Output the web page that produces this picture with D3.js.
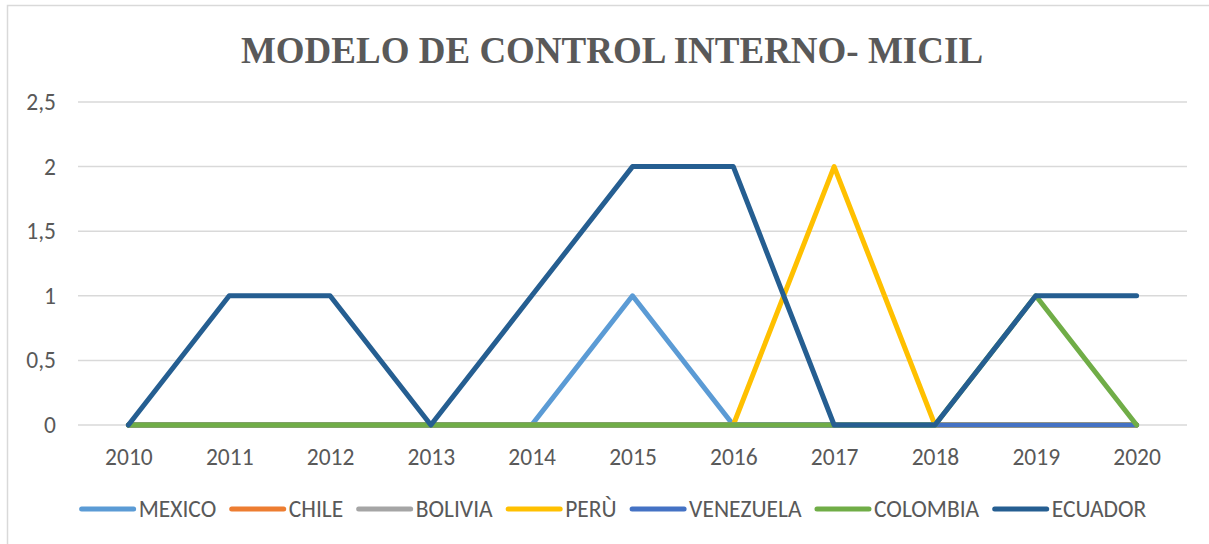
<!DOCTYPE html>
<html>
<head>
<meta charset="utf-8">
<script src="https://cdn.jsdelivr.net/npm/d3@7"></script>
<style>
  body { margin: 0; background: #fff; }
  svg text { font-family: Carlito, "Open Sans", sans-serif; fill: #595959; }
</style>
</head>
<body>
<svg id="chart" width="1209" height="544"></svg>
<script>
// data
const years = ["2010","2011","2012","2013","2014","2015","2016","2017","2018","2019","2020"];
const yTicks = [0, 0.5, 1, 1.5, 2, 2.5];
const seriesNames = ["MEXICO","CHILE","BOLIVIA","PERÙ","VENEZUELA","COLOMBIA","ECUADOR"];
const seriesColors = ["#5B9BD5","#ED7D31","#A5A5A5","#FFC000","#4472C4","#70AD47","#255E91"];
const mexico    = [0,0,0,0,0,1,0,0,0,0,0];
const chile     = [0,0,0,0,0,0,0,0,0,0,0];
const bolivia   = [0,0,0,0,0,0,0,0,0,0,0];
const peru      = [0,0,0,0,0,0,0,2,0,0,0];
const venezuela = [0,0,0,0,0,0,0,0,0,0,0];
const colombia  = [0,0,0,0,0,0,0,0,0,1,0];
const ecuador   = [0,1,1,0,1,2,2,0,0,1,1];
const seriesValues = [mexico, chile, bolivia, peru, venezuela, colombia, ecuador];

const svg = d3.select("#chart");

// outer frame (right/bottom edges fall outside the picture)
svg.append("rect")
    .attr("x", 7.5).attr("y", 5.5)
    .attr("width", 1220).attr("height", 560)
    .attr("fill", "none")
    .attr("stroke", "#D9D9D9")
    .attr("stroke-width", 1.5);

svg.append("text")
    .attr("x", 612)
    .attr("y", 63)
    .attr("text-anchor", "middle")
    .style("font-family", "'Liberation Serif', 'Times New Roman', serif")
    .style("font-weight", "bold")
    .style("font-size", "37px")
    .text("MODELO DE CONTROL INTERNO- MICIL");

const x = d3.scalePoint().domain(years).range([78, 1187]).padding(0.5);
const y = d3.scaleLinear().domain([0, 2.5]).range([425, 102]);

// gridlines
svg.append("g")
    .selectAll("line")
    .data(yTicks)
    .join("line")
    .attr("x1", 78).attr("x2", 1187)
    .attr("y1", d => y(d)).attr("y2", d => y(d))
    .attr("stroke", "#D9D9D9")
    .attr("stroke-width", 1.5);

// y axis labels
const yAxis = svg.append("g")
    .attr("transform", "translate(56,0)")
    .call(d3.axisLeft(y).tickValues(yTicks).tickSize(0).tickPadding(0)
        .tickFormat(d => String(d).replace(".", ",")));
yAxis.select(".domain").remove();
yAxis.selectAll("text")
    .style("font-size", "23.5px")
    .style("font-family", "Carlito, 'Open Sans', sans-serif")
    .attr("fill", "#595959");

// x axis labels
const xAxis = svg.append("g")
    .attr("transform", "translate(0,465)")
    .call(d3.axisBottom(x).tickSize(0).tickPadding(0));
xAxis.select(".domain").remove();
xAxis.selectAll("text")
    .attr("y", 0)
    .attr("dy", 0)
    .style("font-size", "23.5px")
    .style("font-family", "Carlito, 'Open Sans', sans-serif")
    .attr("fill", "#595959");

// lines
const line = d3.line()
    .x((d, i) => x(years[i]))
    .y(d => y(d));

svg.append("g")
    .selectAll("path")
    .data(seriesValues)
    .join("path")
    .attr("d", d => line(d))
    .attr("fill", "none")
    .attr("stroke", (d, i) => seriesColors[i])
    .attr("stroke-width", 5)
    .attr("stroke-linejoin", "round")
    .attr("stroke-linecap", "round");

// legend
const legend = svg.append("g");
let lx = 0;
const gap = 13.5;
seriesNames.forEach((name, i) => {
    const g = legend.append("g").attr("transform", `translate(${lx},0)`);
    g.append("line")
        .attr("x1", 2).attr("x2", 54)
        .attr("y1", 0).attr("y2", 0)
        .attr("stroke", seriesColors[i])
        .attr("stroke-width", 5)
        .attr("stroke-linecap", "round");
    const t = g.append("text")
        .attr("x", 59)
        .attr("y", 8)
        .style("font-size", "23.5px")
        .text(name);
    lx += 59 + t.node().getComputedTextLength() + gap;
});
lx -= gap;
legend.attr("transform", `translate(${613 - lx / 2},509)`);
</script>
</body>
</html>
